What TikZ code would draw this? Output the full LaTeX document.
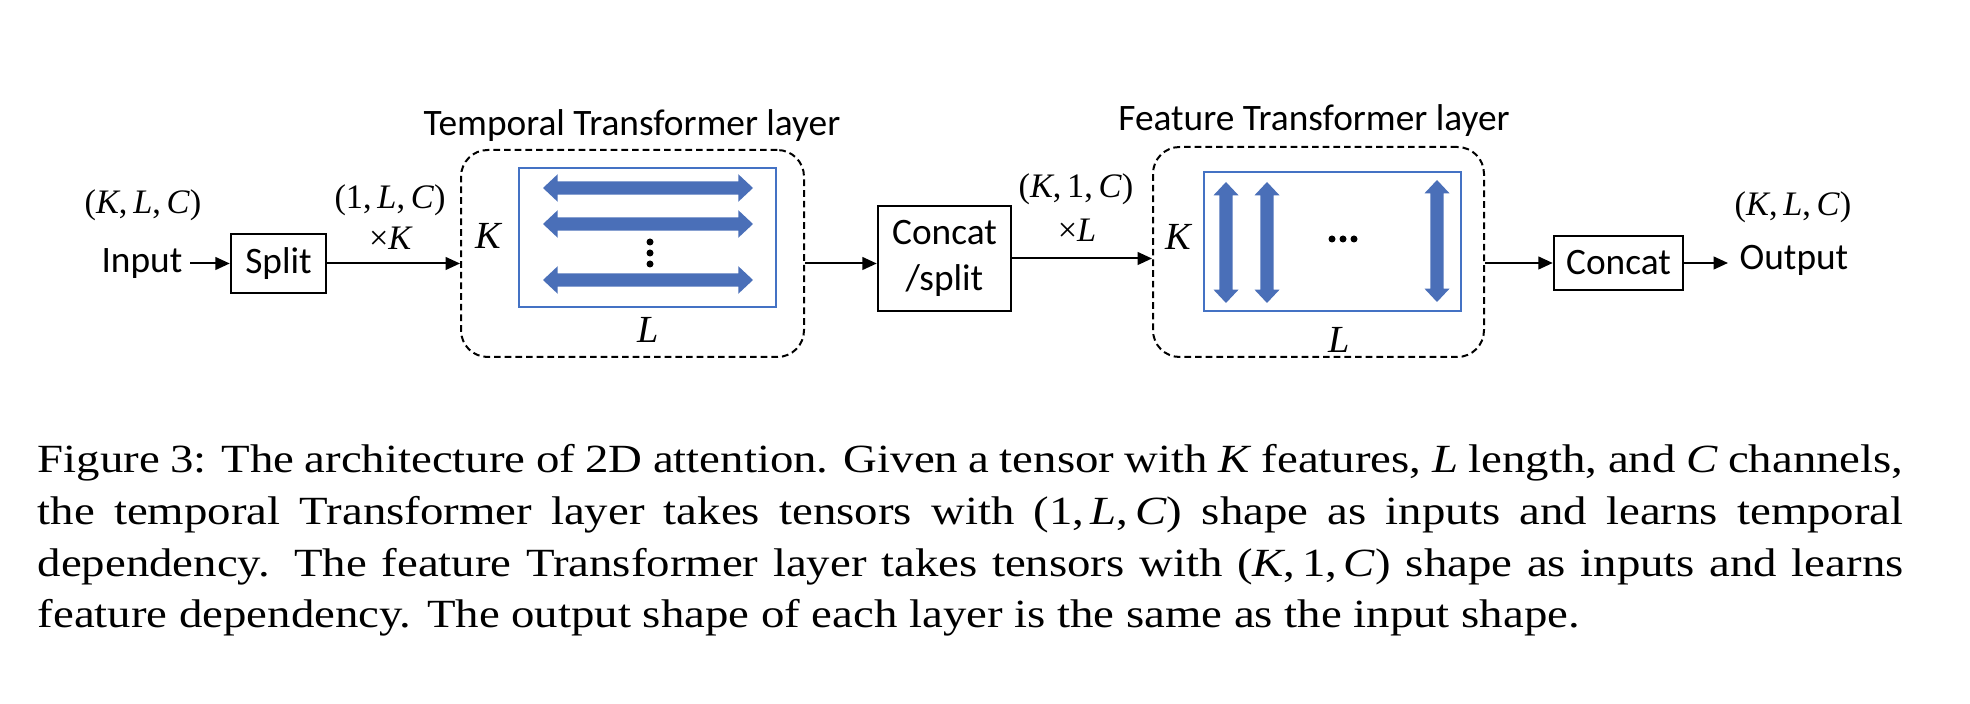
\documentclass[tikz,border=0pt]{standalone}
\usepackage{fontspec}
\setmainfont{Liberation Serif}
\newfontfamily\calfont{Carlito}
\newfontfamily\capfont[FakeStretch=1.17]{Liberation Serif}
\usetikzlibrary{arrows.meta}
\definecolor{bblue}{HTML}{4472C4}
\definecolor{afill}{HTML}{4A6FB8}
\newcommand\harrowat[3]{%
  \fill[afill] (#1,#3) -- (#1+14.7,#3-13.8) -- (#1+14.7,#3-6.7) -- (#2-14.7,#3-6.7) -- (#2-14.7,#3-13.8) -- (#2,#3) -- (#2-14.7,#3+13.8) -- (#2-14.7,#3+6.7) -- (#1+14.7,#3+6.7) -- (#1+14.7,#3+13.8) -- cycle;}
\newcommand\varrowat[3]{%
  \fill[afill] (#1,#2) -- (#1+12.5,#2+13.3) -- (#1+6.7,#2+13.3) -- (#1+6.7,#3-13.3) -- (#1+12.5,#3-13.3) -- (#1,#3) -- (#1-12.5,#3-13.3) -- (#1-6.7,#3-13.3) -- (#1-6.7,#2+13.3) -- (#1-12.5,#2+13.3) -- cycle;}
\begin{document}
\begin{tikzpicture}[x=0.3pt,y=-0.3pt,
  lbl/.style={font=\calfont\fontsize{11.2}{13.8}\selectfont, inner sep=0pt},
  mth/.style={font=\fontsize{10.3}{12}\selectfont, inner sep=0pt},
  mbig/.style={font=\fontsize{11.5}{13}\selectfont\itshape, inner sep=0pt},
  box/.style={draw, line width=0.75pt, inner sep=0pt, lbl},
  dbox/.style={draw, dash pattern=on 2pt off 1.2pt, line width=0.6pt, rounded corners=8pt, inner sep=0pt},
  brect/.style={draw=bblue, line width=0.6pt, inner sep=0pt},
  arr/.style={-{Triangle[length=4.3pt,width=3.8pt]}, line width=0.6pt},
  captxt/.style={font=\capfont\fontsize{12}{15}\selectfont, anchor=base west, inner sep=0pt},
]
\useasboundingbox (0,0) rectangle (1970,704);

% input side
\node[mth] (inshape) at (143,205.5) {(\textit{K},\,\textit{L},\,\textit{C})};
\node[lbl, inner xsep=2.1pt, anchor=base east] (input) at (190,273) {Input};
\node[box, minimum width=28.5pt, minimum height=17.7pt] (split) at (278.5,263.5) {Split};
\draw[arr] (split.west -| input.east) -- (split.west);

% temporal layer
\node[dbox, minimum width=102.9pt, minimum height=62.1pt] (tbox) at (632.5,253.5) {};
\node[brect, minimum width=77.1pt, minimum height=41.7pt] (trect) at (647.5,237.5) {};
\node[lbl, anchor=base] (ttitle) at (632,136) {Temporal Transformer layer};
\node[mbig] (tK) at (488,236) {K};
\node[mbig] (tL) at (648,330) {L};
\node[mth] (s1) at (390,200) {(1,\,\textit{L},\,\textit{C})};
\node[mth] (s1x) at (391,238) {×\textit{K}};
\draw[arr] (split.east) -- (split.east -| tbox.west);
\harrowat{543}{753}{188}
\harrowat{543}{753}{224}
\harrowat{543}{753}{280}
\fill (650,242) circle[radius=1.05pt];
\fill (650,253) circle[radius=1.05pt];
\fill (650,264) circle[radius=1.05pt];

% concat/split
\node[box, minimum width=39.9pt, minimum height=31.5pt, align=center] (cs) at (944.5,258.5) {Concat\\/split};
\draw[arr] (tbox.east |- split.east) -- (cs.west |- split.east);

% feature layer
\node[dbox, minimum width=99.3pt, minimum height=63pt] (fbox) at (1318.5,252) {};
\node[brect, minimum width=77.1pt, minimum height=41.7pt] (frect) at (1332.5,241.5) {};
\node[lbl, anchor=base] (ftitle) at (1314,131) {Feature Transformer layer};
\node[mbig] (fK) at (1178,237) {K};
\node[mbig] (fL) at (1339,340) {L};
\node[mth] (s2) at (1076,189) {(\textit{K},\,1,\,\textit{C})};
\node[mth] (s2x) at (1077,230) {×\textit{L}};
\draw[arr] (cs.east) -- (cs.east -| fbox.west);
\varrowat{1226}{182}{303}
\varrowat{1267}{182}{303}
\varrowat{1437}{180}{302}
\fill (1332,239) circle[radius=1.05pt];
\fill (1343,239) circle[radius=1.05pt];
\fill (1354,239) circle[radius=1.05pt];

% output side
\node[box, minimum width=38.7pt, minimum height=16.2pt] (cc) at (1618.5,263) {Concat};
\draw[arr] (fbox.east |- cc.west) -- (cc.west);
\node[lbl, anchor=base west, inner xsep=3.3pt] (output) at (1728,270) {Output};
\draw[arr] (cc.east) -- (cc.east -| output.west);
\node[mth] (outshape) at (1793,207.5) {(\textit{K},\,\textit{L},\,\textit{C})};

% caption
\node[captxt] (c1) at (37,473) {\makebox[559.8pt][s]{Figure 3: The architecture of 2D attention. Given a tensor with \textit{K} features, \textit{L} length, and \textit{C} channels,}};
\node[captxt] (c2) at (37,525) {\makebox[559.8pt][s]{the temporal Transformer layer takes tensors with (1,\,\textit{L},\,\textit{C}) shape as inputs and learns temporal}};
\node[captxt] (c3) at (37,577) {\makebox[559.8pt][s]{dependency. The feature Transformer layer takes tensors with (\textit{K},\,1,\,\textit{C}) shape as inputs and learns}};
\node[captxt] (c4) at (37,628) {feature dependency. The output shape of each layer is the same as the input shape.};
\end{tikzpicture}
\end{document}
